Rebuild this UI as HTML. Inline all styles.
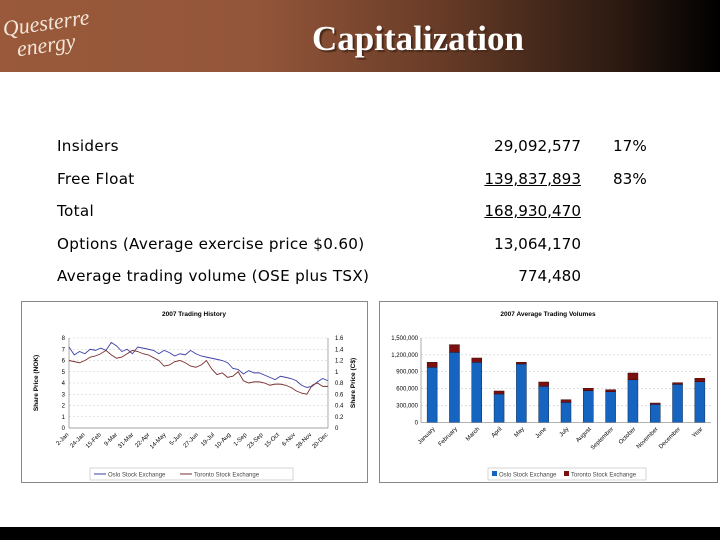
<!DOCTYPE html>
<html><head><meta charset="utf-8"><style>
body{margin:0;width:720px;height:540px;position:relative;background:#fff;overflow:hidden;font-family:"DejaVu Sans","Liberation Sans",sans-serif}
#hdr{position:absolute;left:0;top:0;width:720px;height:72px;background:linear-gradient(90deg,#99593a 0%,#94563a 35%,#6a3d28 60%,#2e1b12 85%,#000 100%)}
#title{position:absolute;left:0;width:836px;top:19px;text-align:center;font:bold 35px "Liberation Serif",serif;color:#fff;text-shadow:2px 2px 1px #4a2a1a}
#logo{position:absolute;left:4px;top:12px;color:#f3e6d8;font:italic 22px "Liberation Serif",serif;line-height:22px;transform:rotate(-8deg)}
.row{position:absolute;left:57px;font-size:15.2px;letter-spacing:0.3px;color:#000;white-space:nowrap}
.num{position:absolute;right:139px;font-size:15.2px;white-space:nowrap}
.pct{position:absolute;left:613px;font-size:15.2px}
#foot{position:absolute;left:0;top:527px;width:720px;height:13px;background:#000}
.chart{position:absolute;border:1px solid #888;background:#fff}
</style></head><body>
<div id="hdr"></div>
<div id="logo">Questerre<br>&nbsp;&nbsp;energy</div>
<div id="title">Capitalization</div>
<div class="row" style="top:137px">Insiders</div>
<div class="num" style="top:137px">29,092,577</div>
<div class="pct" style="top:137px">17%</div>
<div class="row" style="top:170px">Free Float</div>
<div class="num" style="top:170px;text-decoration:underline">139,837,893</div>
<div class="pct" style="top:170px">83%</div>
<div class="row" style="top:202px">Total</div>
<div class="num" style="top:202px;text-decoration:underline">168,930,470</div>
<div class="row" style="top:235px">Options (Average exercise price $0.60)</div>
<div class="num" style="top:235px">13,064,170</div>
<div class="row" style="top:267px">Average trading volume (OSE plus TSX)</div>
<div class="num" style="top:267px">774,480</div>

<svg class="chart" style="left:21px;top:301px" width="345" height="180" id="lc"></svg>
<svg class="chart" style="left:379px;top:301px" width="337" height="180" id="bc"></svg>
<div id="foot"></div>
<script>
const lineDates=["2-Jan","24-Jan","15-Feb","9-Mar","31-Mar","22-Apr","14-May","5-Jun","27-Jun","19-Jul","10-Aug","1-Sep","23-Sep","15-Oct","6-Nov","28-Nov","20-Dec"];
const osloPrice=[7.2,6.5,6.8,6.6,7,6.9,7.1,6.9,7.6,7.3,6.8,7,6.6,7.2,7.1,7,6.9,6.6,6.9,6.7,6.4,6.6,6.5,6.9,6.6,6.4,6.3,6.2,6.1,6,5.8,5.3,5.2,4.8,5.1,4.9,4.9,4.7,4.5,4.3,4.6,4.5,4.4,4.2,3.8,3.6,3.7,4.1,4.4,4.2];
const torontoPrice=[1.2,1.18,1.16,1.2,1.26,1.28,1.32,1.38,1.3,1.24,1.26,1.32,1.38,1.36,1.32,1.3,1.25,1.2,1.1,1.12,1.18,1.2,1.16,1.1,1.08,1.12,1.2,1.05,0.95,0.98,0.9,0.92,1.0,0.84,0.8,0.82,0.82,0.8,0.76,0.78,0.78,0.76,0.72,0.66,0.62,0.6,0.76,0.8,0.74,0.74];
const leftTicks=[0,1,2,3,4,5,6,7,8];
const rightTicks=[0,0.2,0.4,0.6,0.8,1,1.2,1.4,1.6];
const months=["January","February","March","April","May","June","July","August","September","October","November","December","Year"];
const osloVol=[979000,1246000,1068000,504000,1037000,641000,356000,562000,545000,758000,320000,676000,722000];
const torontoVol=[89000,135000,76000,53000,31000,76000,46000,43000,35000,119000,23000,29000,61000];
const volTicks=[0,300000,600000,900000,1200000,1500000];
const volTickLabels=["0","300,000","600,000","900,000","1,200,000","1,500,000"];
const NS="http://www.w3.org/2000/svg";
function mk(p,t,a,txt){const e=document.createElementNS(NS,t);for(const k in a)e.setAttribute(k,a[k]);if(txt!==undefined)e.textContent=txt;p.appendChild(e);return e;}
(function(){
const s=document.getElementById('lc');const ox=-21,oy=-301;
const x0=68+ox,x1=327+ox,yb=427+oy,yt=337+oy;
const yL=v=>yb-(v/8)*(yb-yt), yR=v=>yb-(v/1.6)*(yb-yt);
const xi=(i,n)=>x0+i*(x1-x0)/(n-1);
let t=mk(s,'text',{x:172,y:14,'font-size':6.5,'font-weight':'bold','text-anchor':'middle','font-family':'Liberation Sans'},'2007 Trading History');

leftTicks.forEach(v=>{const g=mk(s,'line',{x1:x0,x2:x1,y1:yL(v),y2:yL(v),stroke:'#ccc','stroke-width':0.6,'stroke-dasharray':'2,2'});

const l=mk(s,'text',{x:x0-4,y:yL(v)+2,'font-size':6,'text-anchor':'end','font-family':'Liberation Sans'},String(v));
});
rightTicks.forEach(v=>{const l=mk(s,'text',{x:x1+7,y:yR(v)+2,'font-size':6,'font-family':'Liberation Sans'},String(v));
});
mk(s,'line',{x1:x0,x2:x0,y1:yt,y2:yb,stroke:'#888','stroke-width':0.7});
mk(s,'line',{x1:x1,x2:x1,y1:yt,y2:yb,stroke:'#888','stroke-width':0.7});
mk(s,'line',{x1:x0,x2:x1,y1:yb,y2:yb,stroke:'#888','stroke-width':0.7});
lineDates.forEach((d,i)=>{const x=xi(i,lineDates.length);const l=mk(s,'text',{x:x,y:yb+7,'font-size':6,'text-anchor':'end','font-family':'Liberation Sans',transform:`rotate(-45 ${x} ${yb+7})`},d);
});
let p=mk(s,'polyline',{points:osloPrice.map((v,i)=>xi(i,osloPrice.length)+','+yL(v)).join(' '),fill:'none',stroke:'#3b3fa8','stroke-width':0.9});

p=mk(s,'polyline',{points:torontoPrice.map((v,i)=>xi(i,torontoPrice.length)+','+yR(v)).join(' '),fill:'none',stroke:'#7a2f2f','stroke-width':0.9});

let a=mk(s,'text',{x:16,y:(yt+yb)/2,'font-size':6.5,'font-weight':'bold','text-anchor':'middle','font-family':'Liberation Sans',transform:`rotate(-90 16 ${(yt+yb)/2})`},'Share Price (NOK)');

a=mk(s,'text',{x:333,y:(yt+yb)/2,'font-size':6.5,'font-weight':'bold','text-anchor':'middle','font-family':'Liberation Sans',transform:`rotate(-90 333 ${(yt+yb)/2})`},'Share Price (C$)');

const lg=mk(s,'rect',{x:68,y:166,width:203,height:12,fill:'#fff',stroke:'#bbb','stroke-width':0.6});

mk(s,'line',{x1:72,x2:84,y1:172,y2:172,stroke:'#3b3fa8'});
let e=mk(s,'text',{x:86,y:174.5,'font-size':6,'font-family':'Liberation Sans',fill:'#444'},'Oslo Stock Exchange');

mk(s,'line',{x1:158,x2:170,y1:172,y2:172,stroke:'#7a2f2f'});
e=mk(s,'text',{x:172,y:174.5,'font-size':6,'font-family':'Liberation Sans',fill:'#444'},'Toronto Stock Exchange');

})();
(function(){
const s=document.getElementById('bc');const ox=-379,oy=-301;
const x0=420+ox,x1=710+ox,yb=421.3+oy,yt=337+oy;
const y=v=>yb-(v/1500000)*(yb-yt);
const step=(x1-x0)/months.length;const bw=10;
let t=mk(s,'text',{x:168,y:14,'font-size':6.5,'font-weight':'bold','text-anchor':'middle','font-family':'Liberation Sans'},'2007 Average Trading Volumes');

volTicks.forEach((v,i)=>{const g=mk(s,'line',{x1:x0,x2:x1,y1:y(v),y2:y(v),stroke:'#ccc','stroke-width':0.6,'stroke-dasharray':'2,2'});

const l=mk(s,'text',{x:x0-3,y:y(v)+2,'font-size':6,'text-anchor':'end','font-family':'Liberation Sans'},volTickLabels[i]);
});
mk(s,'line',{x1:x0,x2:x0,y1:yt,y2:yb,stroke:'#888','stroke-width':0.7});
mk(s,'line',{x1:x0,x2:x1,y1:yb,y2:yb,stroke:'#888','stroke-width':0.7});
months.forEach((m,i)=>{const cx=x0+step*(i+0.5);
let r=mk(s,'rect',{x:cx-bw/2,y:y(osloVol[i]),width:bw,height:yb-y(osloVol[i]),fill:'#1565c0',stroke:'#0a2a55','stroke-width':0.5});

const top=osloVol[i]+torontoVol[i];
r=mk(s,'rect',{x:cx-bw/2,y:y(top),width:bw,height:y(osloVol[i])-y(top),fill:'#7a1010',stroke:'#3a0808','stroke-width':0.5});

const l=mk(s,'text',{x:cx+3,y:yb+7,'font-size':6,'text-anchor':'end','font-family':'Liberation Sans',transform:`rotate(-45 ${cx+3} ${yb+7})`},m);
});
const lg=mk(s,'rect',{x:108,y:166,width:158,height:12,fill:'#fff',stroke:'#bbb','stroke-width':0.6});

mk(s,'rect',{x:112,y:169,width:5,height:5,fill:'#1565c0'});
let e=mk(s,'text',{x:119,y:174.5,'font-size':6,'font-family':'Liberation Sans',fill:'#444'},'Oslo Stock Exchange');

mk(s,'rect',{x:184,y:169,width:5,height:5,fill:'#7a1010'});
e=mk(s,'text',{x:191,y:174.5,'font-size':6,'font-family':'Liberation Sans',fill:'#444'},'Toronto Stock Exchange');

})();
</script>
</body></html>
